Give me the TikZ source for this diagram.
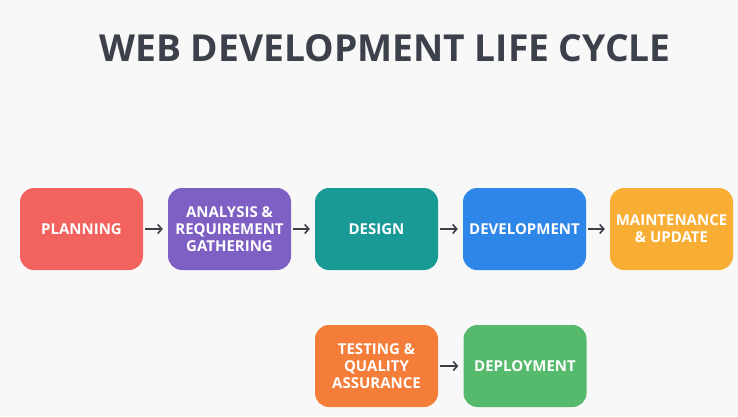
\documentclass[tikz,border=0pt]{standalone}
\usepackage{fontspec}
\setmainfont{Open Sans}
\usetikzlibrary{arrows.meta}
\definecolor{bgc}{HTML}{F8F8F8}
\definecolor{titlec}{HTML}{3B404A}
\definecolor{arrc}{HTML}{3C3F46}
\definecolor{cplan}{HTML}{F2635F}
\definecolor{cana}{HTML}{7E5FC4}
\definecolor{cdes}{HTML}{1A9A96}
\definecolor{cdev}{HTML}{2E87E8}
\definecolor{cmain}{HTML}{F8AE35}
\definecolor{ctest}{HTML}{F47D3A}
\definecolor{cdep}{HTML}{55BA6B}
\tikzset{
  stage/.style={fill=#1, draw=none, rounded corners=14pt, minimum width=123pt, minimum height=82pt,
    inner sep=1pt, align=center, text=white, font=\fontsize{15}{17}\selectfont\bfseries},
  arr/.style={draw=arrc, line width=1.6pt, -{Straight Barb[length=4pt,width=9pt]}, shorten <=2pt, shorten >=5pt}
}
\begin{document}
\begin{tikzpicture}[x=1pt,y=-1pt]
\fill[bgc] (0,0) rectangle (738,416);
\useasboundingbox (0,0) rectangle (738,416);
\node[text=titlec, font=\fontsize{37.2}{42}\selectfont\bfseries] (title) at (385,48) {WEB DEVELOPMENT LIFE CYCLE};
\node[stage=cplan] (plan) at (81.5,229) {PLANNING};
\node[stage=cana] (ana) at (229.5,229) {ANALYSIS \&\\REQUIREMENT\\GATHERING};
\node[stage=cdes] (des) at (376.5,229) {DESIGN};
\node[stage=cdev] (dev) at (524.5,229) {DEVELOPMENT};
\node[stage=cmain] (main) at (671.5,229) {MAINTENANCE\\\& UPDATE};
\node[stage=ctest] (test) at (376.5,366) {TESTING \&\\QUALITY\\ASSURANCE};
\node[stage=cdep] (dep) at (525,366) {DEPLOYMENT};
\draw[arr] (plan) -- (ana);
\draw[arr] (ana) -- (des);
\draw[arr] (des) -- (dev);
\draw[arr] (dev) -- (main);
\draw[arr] (test) -- (dep);
\end{tikzpicture}
\end{document}
